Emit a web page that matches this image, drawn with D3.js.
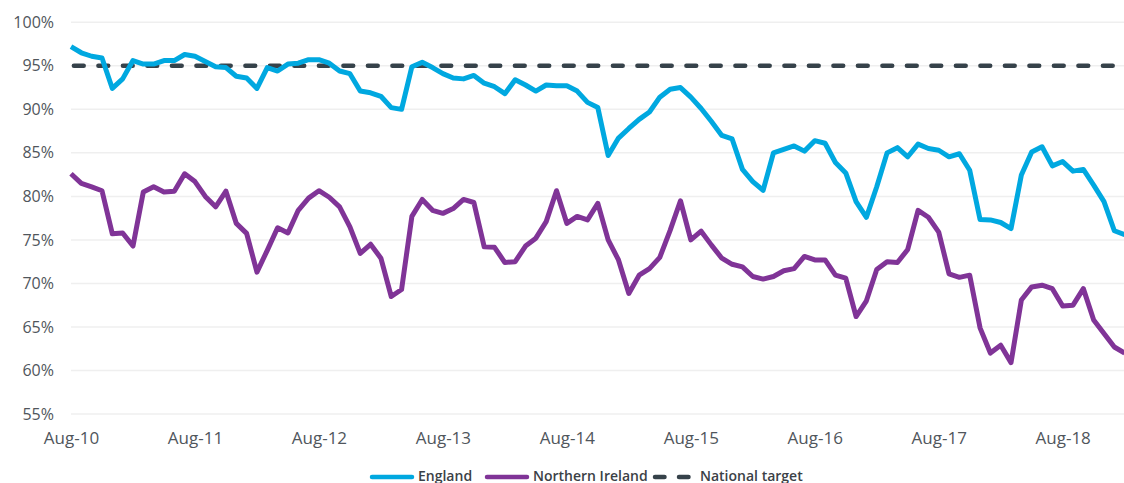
<!DOCTYPE html>
<html>
<head>
<meta charset="utf-8">
<script src="https://cdnjs.cloudflare.com/ajax/libs/d3/7.8.5/d3.min.js"></script>
<style>
  html, body { margin: 0; padding: 0; background: #fff; }
  svg { display: block; font-family: "Open Sans", "Noto Sans", sans-serif; }
  .axis text { fill: #50565c; font-size: 16px; }
  .x.axis text { font-size: 17px; }
  .legend text { fill: #3b4146; font-size: 14px; font-weight: 600; }
</style>
</head>
<body>
<div id="chart"></div>
<script>
// monthly figures, Aug-10 .. Feb-19
var england = [97.2, 96.5, 96.1, 95.9, 92.4, 93.5, 95.6, 95.2, 95.2, 95.6, 95.6, 96.3,
  96.1, 95.5, 94.9, 94.8, 93.8, 93.6, 92.4, 94.8, 94.4, 95.2, 95.3, 95.7,
  95.7, 95.3, 94.4, 94.1, 92.1, 91.9, 91.5, 90.2, 90.0, 94.9, 95.4, 94.8,
  94.1, 93.6, 93.5, 93.9, 93.0, 92.6, 91.8, 93.4, 92.8, 92.1, 92.8, 92.7,
  92.7, 92.1, 90.8, 90.2, 84.7, 86.7, 87.8, 88.85, 89.7, 91.4, 92.3, 92.5,
  91.4, 90.1, 88.6, 87.0, 86.6, 83.1, 81.7, 80.7, 85.0, 85.4, 85.8, 85.2,
  86.4, 86.1, 83.9, 82.7, 79.4, 77.6, 81.1, 85.0, 85.6, 84.55, 86.0, 85.5,
  85.3, 84.55, 84.9, 83.0, 77.35, 77.3, 77.0, 76.3, 82.45, 85.1, 85.7, 83.5,
  84.0, 82.9, 83.1, 81.3, 79.4, 76.05, 75.6];

var northernIreland = [82.6, 81.5, 81.1, 80.65, 75.7, 75.8, 74.3, 80.5, 81.1, 80.5, 80.6, 82.6,
  81.7, 80.0, 78.8, 80.6, 76.9, 75.75, 71.3, 73.8, 76.4, 75.8, 78.4, 79.8,
  80.65, 79.9, 78.8, 76.5, 73.45, 74.5, 72.9, 68.5, 69.3, 77.7, 79.65, 78.4,
  78.05, 78.6, 79.65, 79.3, 74.2, 74.15, 72.4, 72.5, 74.3, 75.2, 77.1, 80.65,
  76.9, 77.7, 77.3, 79.2, 75.0, 72.7, 68.85, 70.95, 71.7, 73.0, 76.1, 79.5,
  75.0, 76.0, 74.4, 72.9, 72.2, 71.9, 70.8, 70.5, 70.8, 71.45, 71.7, 73.1,
  72.7, 72.7, 70.95, 70.6, 66.2, 68.0, 71.6, 72.5, 72.4, 73.9, 78.4, 77.6,
  75.9, 71.1, 70.7, 70.95, 64.9, 62.0, 62.9, 60.9, 68.1, 69.6, 69.8, 69.4,
  67.4, 67.5, 69.4, 65.8, 64.25, 62.7, 62.0];

var nationalTarget = 95;

var months = d3.timeMonth.range(new Date(2010, 7, 1), new Date(2019, 2, 1))
  .map(d3.timeFormat("%b-%y"));

var xTicks = ["Aug-10", "Aug-11", "Aug-12", "Aug-13", "Aug-14", "Aug-15", "Aug-16", "Aug-17", "Aug-18"];
var yTicks = [55, 60, 65, 70, 75, 80, 85, 90, 95, 100];

var legendItems = [
  {name: "England", color: "#00a8e0", dashed: false, x: 370},
  {name: "Northern Ireland", color: "#803497", dashed: false, x: 485},
  {name: "National target", color: "#36424a", dashed: true, x: 653}
];

var W = 1124, H = 483;
var margin = {left: 71, top: 22.3, bottom: 414};

var svg = d3.select("#chart").append("svg")
    .attr("width", W)
    .attr("height", H);

var x = d3.scalePoint()
    .domain(months)
    .range([margin.left, margin.left + (months.length - 1) * 10.33]);

var y = d3.scaleLinear()
    .domain([55, 100])
    .range([margin.bottom, margin.top]);

// gridlines
svg.append("g")
  .selectAll("line")
  .data(yTicks)
  .enter().append("line")
    .attr("x1", margin.left)
    .attr("x2", W)
    .attr("y1", function(d) { return y(d); })
    .attr("y2", function(d) { return y(d); })
    .attr("stroke", "#efefef")
    .attr("stroke-width", 1.5);

var yAxis = d3.axisLeft(y)
    .tickValues(yTicks)
    .tickFormat(function(d) { return d + "%"; })
    .tickSize(0)
    .tickPadding(17);

svg.append("g")
    .attr("class", "y axis")
    .attr("transform", "translate(" + margin.left + ",0)")
    .call(yAxis)
    .call(function(g) { g.select(".domain").remove(); });

var xAxis = d3.axisBottom(x)
    .tickValues(xTicks)
    .tickSize(0)
    .tickPadding(18);

svg.append("g")
    .attr("class", "x axis")
    .attr("transform", "translate(0," + margin.bottom + ")")
    .call(xAxis)
    .call(function(g) { g.select(".domain").remove(); });

svg.selectAll(".axis").attr("font-family", null).attr("font-size", null);

// target line
svg.append("line")
    .attr("x1", x(months[0]))
    .attr("x2", W)
    .attr("y1", y(nationalTarget))
    .attr("y2", y(nationalTarget))
    .attr("stroke", "#36424a")
    .attr("stroke-width", 4.5)
    .attr("stroke-linecap", "round")
    .attr("stroke-dasharray", "9.8 14.7")
    .attr("stroke-dashoffset", -2.9);

var line = d3.line()
    .x(function(d, i) { return x(months[i]); })
    .y(function(d) { return y(d); });

svg.append("path")
    .datum(northernIreland)
    .attr("fill", "none")
    .attr("stroke", "#803497")
    .attr("stroke-width", 5)
    .attr("stroke-linejoin", "round")
    .attr("d", line);

svg.append("path")
    .datum(england)
    .attr("fill", "none")
    .attr("stroke", "#00a8e0")
    .attr("stroke-width", 5)
    .attr("stroke-linejoin", "round")
    .attr("d", line);

// legend
var legend = svg.append("g")
    .attr("class", "legend")
  .selectAll("g")
  .data(legendItems)
  .enter().append("g")
    .attr("transform", function(d) { return "translate(" + d.x + ",477)"; });

legend.append("line")
    .attr("x1", 2)
    .attr("x2", function(d) { return d.dashed ? 38 : 42; })
    .attr("stroke", function(d) { return d.color; })
    .attr("stroke-width", 4.5)
    .attr("stroke-linecap", "round")
    .attr("stroke-dasharray", function(d) { return d.dashed ? "9.5 14.5" : null; });

legend.append("text")
    .attr("x", function(d) { return d.dashed ? 47 : 48; })
    .attr("y", 4)
    .text(function(d) { return d.name; });
</script>
</body>
</html>
